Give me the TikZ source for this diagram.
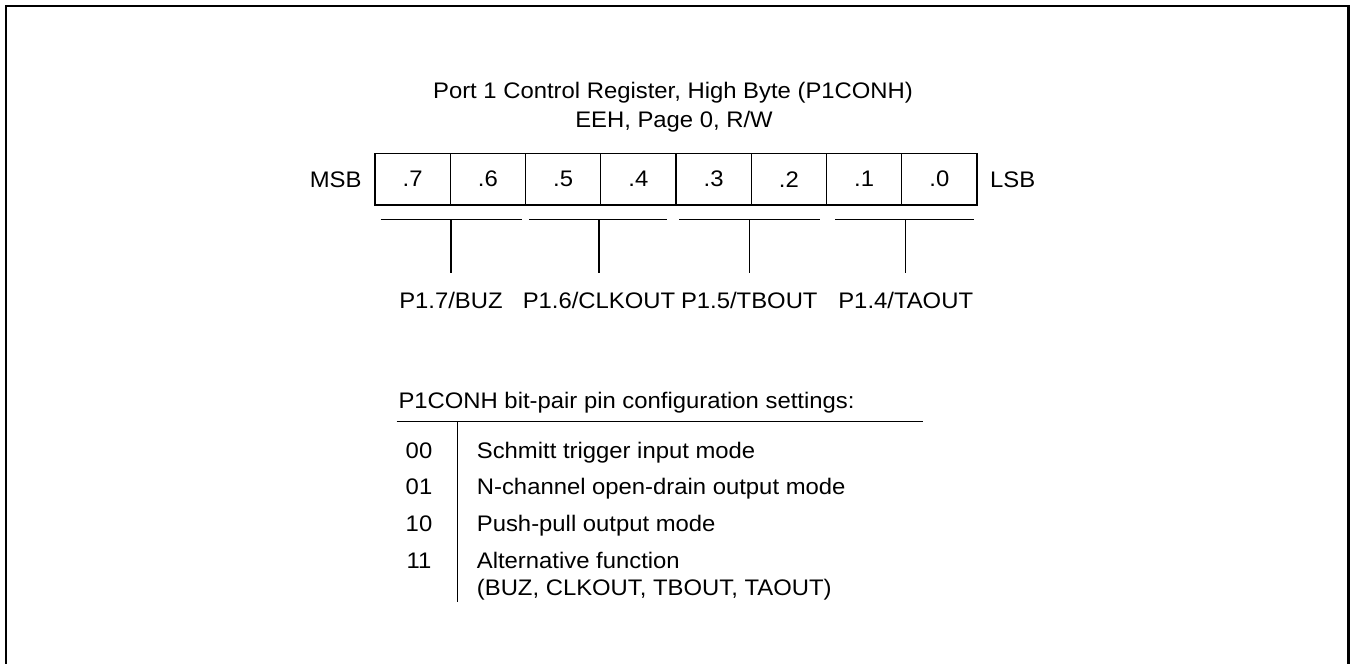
\documentclass[tikz,border=0pt]{standalone}
\usepackage{fontspec}
\setmainfont{Liberation Sans}
\newcommand{\hs}[1]{\scalebox{1.06}[1]{#1}}
\begin{document}
\begin{tikzpicture}[x=1pt,y=-1pt,
  txt/.style={font=\fontsize{22.5}{26}\selectfont, inner sep=0pt, anchor=base},
  cell/.style={draw, line width=1.2pt, minimum width=75.25pt, minimum height=51.7pt, inner sep=0pt, font=\fontsize{22.5}{26}\selectfont},
  ln/.style={line width=1.2pt},
  frame/.style={line width=2.5pt}]
\useasboundingbox (0,0) rectangle (1355,664);
% outer frame (open at the bottom)
\coordinate (fbl) at (6.2,690);
\coordinate (ftl) at (6.2,6.2);
\coordinate (ftr) at (1348.3,6.2);
\coordinate (fbr) at (1348.3,690);
\draw[frame] (fbl) -- (ftl) -- (ftr) -- (fbr);
% title
\node[txt] (t1) at (673,98.8) {\hs{Port 1 Control Register, High Byte (P1CONH)}};
\node[txt] (t2) at (674,127.2) {\hs{EEH, Page 0, R/W}};
% register cells
\foreach \i in {0,...,7}{
  \pgfmathtruncatemacro{\b}{7-\i}
  \node[cell] (c\b) at ({375+75.25*\i+37.625},179.2) {\hs{.\b}};
}
\node[txt, anchor=base east] (msb) at (361.7,187.2) {\hs{MSB}};
\node[txt, anchor=base west] (lsb) at (990,187.2) {\hs{LSB}};
% brackets
\coordinate (s7a) at (380.7,219.3); \coordinate (s7b) at (521.7,219.3);
\coordinate (s6a) at (529.3,219.3); \coordinate (s6b) at (667.3,219.3);
\coordinate (s5a) at (679,219.3);   \coordinate (s5b) at (820,219.3);
\coordinate (s4a) at (835,219.3);   \coordinate (s4b) at (974,219.3);
\coordinate (m7) at (451,219.3);   \coordinate (e7) at (451,273.3);
\coordinate (m6) at (599,219.3);   \coordinate (e6) at (599,273.3);
\coordinate (m5) at (749.3,219.3); \coordinate (e5) at (749.3,273.3);
\coordinate (m4) at (905.7,219.3); \coordinate (e4) at (905.7,273.3);
\foreach \k in {7,6,5,4}{
  \draw[ln] (s\k a) -- (s\k b);
  \draw[ln] (m\k) -- (e\k);
}
\node[txt] (l7) at (451,308.5) {\hs{P1.7/BUZ}};
\node[txt] (l6) at (599,308.5) {\hs{P1.6/CLKOUT}};
\node[txt] (l5) at (749.3,308.5) {\hs{P1.5/TBOUT}};
\node[txt] (l4) at (905.7,308.5) {\hs{P1.4/TAOUT}};
% settings table
\node[txt, anchor=base west] (hd) at (398.3,408.5) {\hs{P1CONH bit-pair pin configuration settings:}};
\coordinate (hl1) at (396.7,421.7); \coordinate (hl2) at (923.3,421.7);
\coordinate (vl1) at (457.3,421.7); \coordinate (vl2) at (457.3,602);
\draw[line width=1.4pt] (hl1) -- (hl2);
\draw[ln] (vl1) -- (vl2);
\node[txt] (k0) at (419,458) {\hs{00}};
\node[txt] (k1) at (419,494.7) {\hs{01}};
\node[txt] (k2) at (419,531.3) {\hs{10}};
\node[txt] (k3) at (419,568) {\hs{11}};
\node[txt, anchor=base west] (d0) at (476.7,458) {\hs{Schmitt trigger input mode}};
\node[txt, anchor=base west] (d1) at (476.7,494.7) {\hs{N-channel open-drain output mode}};
\node[txt, anchor=base west] (d2) at (476.7,531.3) {\hs{Push-pull output mode}};
\node[txt, anchor=base west] (d3) at (476.7,568) {\hs{Alternative function}};
\node[txt, anchor=base west] (d4) at (476.7,595) {\hs{(BUZ, CLKOUT, TBOUT, TAOUT)}};
\end{tikzpicture}
\end{document}
